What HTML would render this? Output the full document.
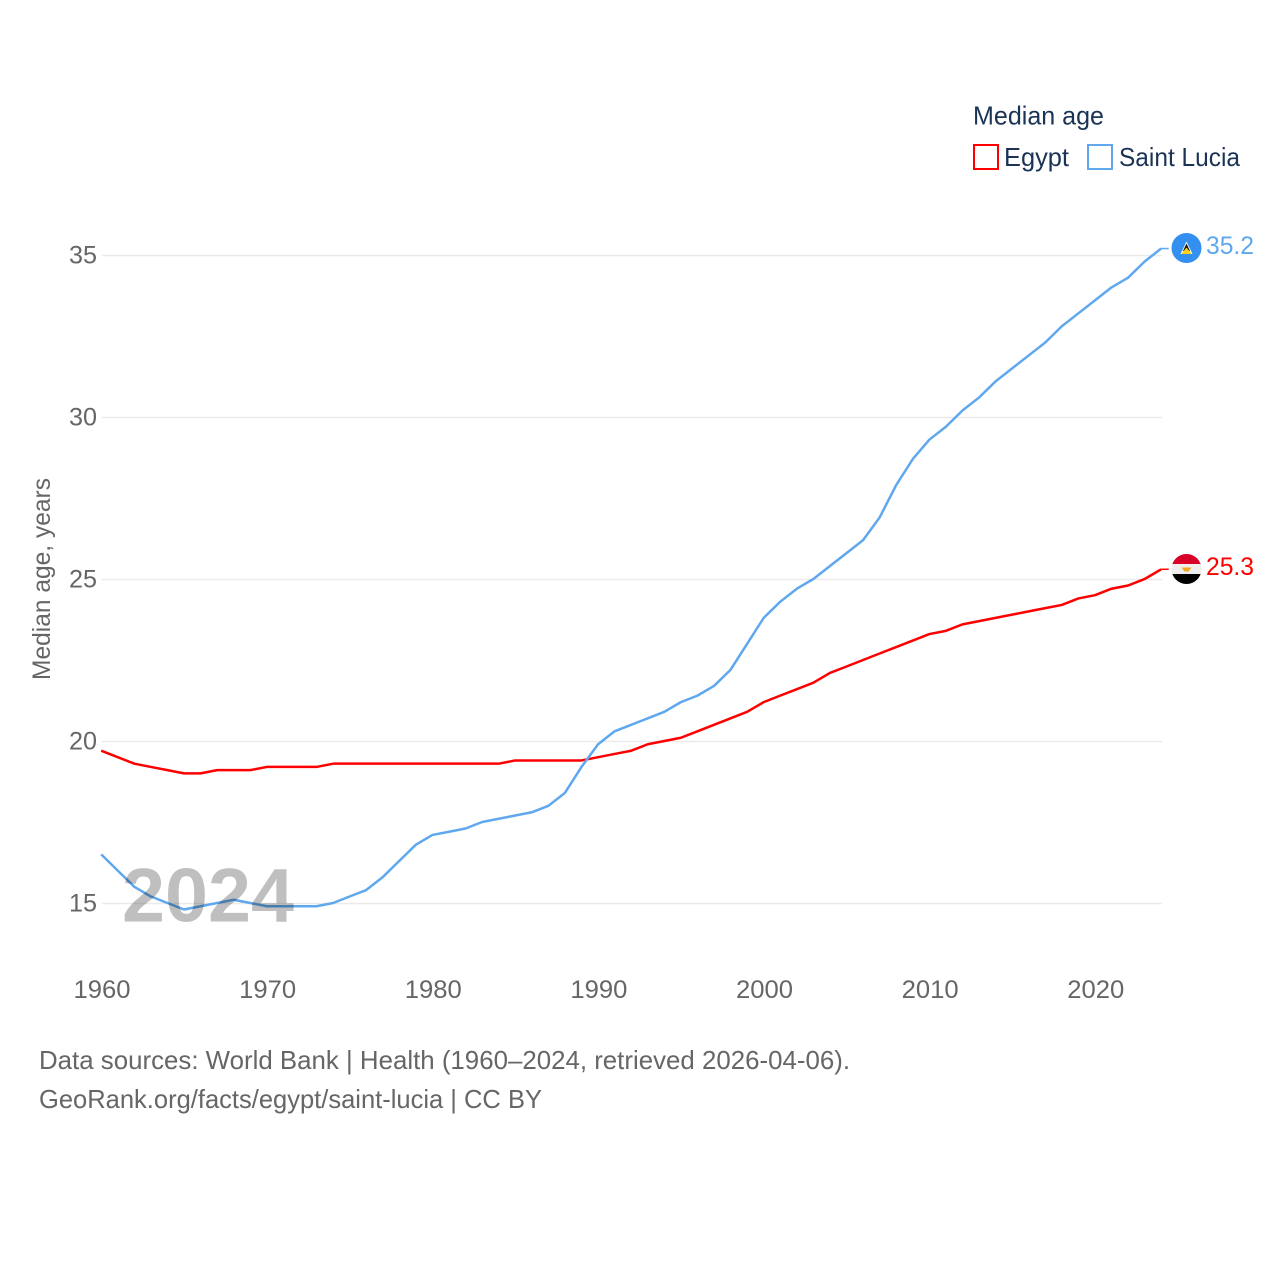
<!DOCTYPE html>
<html lang="en">
<head>
<meta charset="utf-8">
<title>Median age: Egypt and Saint Lucia</title>
<style>
html,body{margin:0;padding:0;background:#fff;width:1280px;height:1280px;overflow:hidden}
svg{display:block}
text{font-family:"Liberation Sans",sans-serif}
</style>
</head>
<body>
<svg id="chart" xmlns="http://www.w3.org/2000/svg" width="1280" height="1280" viewBox="0 0 1280 1280">
  <rect width="1280" height="1280" fill="#fff"/>
  <g id="grid"></g>
  <g id="yticks"></g>
  <g id="xticks"></g>
  <text transform="translate(50,680) rotate(-90)" font-size="25" fill="#666" textLength="202" lengthAdjust="spacingAndGlyphs">Median age, years</text>
  <g id="series"></g>
  <text x="122" y="921.5" font-size="76" font-weight="bold" fill="#000" fill-opacity="0.25" textLength="172" lengthAdjust="spacingAndGlyphs">2024</text>

  <text x="973" y="124.5" font-size="26" fill="#1b3355" textLength="131" lengthAdjust="spacingAndGlyphs">Median age</text>
  <rect x="974" y="145" width="24" height="24" fill="none" stroke="#ff0000" stroke-width="2"/>
  <text x="1004" y="166" font-size="26" fill="#1b3355" textLength="65" lengthAdjust="spacingAndGlyphs">Egypt</text>
  <rect x="1088" y="145" width="24" height="24" fill="none" stroke="#5fa8ee" stroke-width="2"/>
  <text x="1119" y="166" font-size="26" fill="#1b3355" textLength="121" lengthAdjust="spacingAndGlyphs">Saint Lucia</text>

  <defs>
    <clipPath id="egypt-clip"><circle cx="1186.5" cy="569" r="15"/></clipPath>
  </defs>
  <g>
    <circle cx="1186.5" cy="248" r="15" fill="#3390f0"/>
    <polygon points="1186.5,241.5 1192.5,254 1180.5,254" fill="#fff"/>
    <polygon points="1186.5,243.5 1190,251 1183,251" fill="#111"/>
    <polygon points="1186.5,247.5 1191.8,254 1181.2,254" fill="#fcd116"/>
  </g>
  <g clip-path="url(#egypt-clip)">
    <rect x="1171" y="554" width="31" height="10" fill="#d80027"/>
    <rect x="1171" y="564" width="31" height="10" fill="#eeeeee"/>
    <rect x="1171" y="574" width="31" height="11" fill="#000"/>
    <polygon points="1181.5,567.5 1191.5,567.5 1188.5,571.5 1184.5,571.5" fill="#f6a623"/>
  </g>
  <text x="1206" y="254" font-size="25" fill="#5fa8ee" textLength="48" lengthAdjust="spacingAndGlyphs">35.2</text>
  <text x="1206" y="575" font-size="25" fill="#ff0000" textLength="48" lengthAdjust="spacingAndGlyphs">25.3</text>

  <text x="39" y="1069" font-size="26" fill="#666" textLength="811" lengthAdjust="spacingAndGlyphs">Data sources: World Bank | Health (1960–2024, retrieved 2026-04-06).</text>
  <text x="39" y="1108" font-size="26" fill="#666" textLength="503" lengthAdjust="spacingAndGlyphs">GeoRank.org/facts/egypt/saint-lucia | CC BY</text>
</svg>
<script>
const startYear = 1960;
const xTickLabels = [1960, 1970, 1980, 1990, 2000, 2010, 2020];
const yTickLabels = [15, 20, 25, 30, 35];
const egyptValues = [19.7,19.5,19.3,19.2,19.1,19.0,19.0,19.1,19.1,19.1,19.2,19.2,19.2,19.2,19.3,19.3,19.3,19.3,19.3,19.3,19.3,19.3,19.3,19.3,19.3,19.4,19.4,19.4,19.4,19.4,19.5,19.6,19.7,19.9,20.0,20.1,20.3,20.5,20.7,20.9,21.2,21.4,21.6,21.8,22.1,22.3,22.5,22.7,22.9,23.1,23.3,23.4,23.6,23.7,23.8,23.9,24.0,24.1,24.2,24.4,24.5,24.7,24.8,25.0,25.3];
const saintLuciaValues = [16.5,16.0,15.5,15.2,15.0,14.8,14.9,15.0,15.1,15.0,14.9,14.9,14.9,14.9,15.0,15.2,15.4,15.8,16.3,16.8,17.1,17.2,17.3,17.5,17.6,17.7,17.8,18.0,18.4,19.2,19.9,20.3,20.5,20.7,20.9,21.2,21.4,21.7,22.2,23.0,23.8,24.3,24.7,25.0,25.4,25.8,26.2,26.9,27.9,28.7,29.3,29.7,30.2,30.6,31.1,31.5,31.9,32.3,32.8,33.2,33.6,34.0,34.3,34.8,35.2];

const NS = 'http://www.w3.org/2000/svg';
function xScale(year) { return 102 + (year - 1960) * 16.5625; }
function yScale(value) { return 903.5 - (value - 15) * 32.4; }
function markX(year) { return xScale(year) - 0.8; }
function markY(value) { return yScale(value) - 0.5; }

const gridGroup = document.getElementById('grid');
const yGroup = document.getElementById('yticks');
const xGroup = document.getElementById('xticks');
const seriesGroup = document.getElementById('series');

yTickLabels.forEach(function (v) {
  const line = document.createElementNS(NS, 'line');
  
  
  line.setAttribute('x1', xScale(1960));
  line.setAttribute('x2', xScale(2024));
  line.setAttribute('y1', yScale(v));
  line.setAttribute('y2', yScale(v));
  line.setAttribute('stroke', '#ebebeb');
  line.setAttribute('stroke-width', '1.5');
  gridGroup.appendChild(line);

  const label = document.createElementNS(NS, 'text');
  
  
  label.setAttribute('x', 97);
  label.setAttribute('y', yScale(v) + 8);
  label.setAttribute('text-anchor', 'end');
  label.setAttribute('font-size', '25');
  label.setAttribute('fill', '#666');
  label.setAttribute('textLength', '28');
  label.setAttribute('lengthAdjust', 'spacingAndGlyphs');
  label.textContent = v;
  yGroup.appendChild(label);
});

xTickLabels.forEach(function (y) {
  const label = document.createElementNS(NS, 'text');
  
  
  label.setAttribute('x', xScale(y));
  label.setAttribute('y', 998);
  label.setAttribute('text-anchor', 'middle');
  label.setAttribute('font-size', '25');
  label.setAttribute('fill', '#666');
  label.setAttribute('textLength', '57');
  label.setAttribute('lengthAdjust', 'spacingAndGlyphs');
  label.textContent = y;
  xGroup.appendChild(label);
});

function linePoints(values) {
  return values.map(function (v, i) {
    return markX(startYear + i).toFixed(2) + ',' + markY(v).toFixed(2);
  }).join(' ');
}

function addConnector(values, color, name) {
  const last = values[values.length - 1];
  const endYear = startYear + values.length - 1;
  const connector = document.createElementNS(NS, 'line');
  
  
  connector.setAttribute('x1', markX(endYear));
  connector.setAttribute('x2', markX(endYear) + 7.5);
  connector.setAttribute('y1', markY(last));
  connector.setAttribute('y2', markY(last));
  connector.setAttribute('stroke', color);
  connector.setAttribute('stroke-width', '1.5');
  seriesGroup.appendChild(connector);
}

const egyptLine = document.createElementNS(NS, 'polyline');


egyptLine.setAttribute('points', linePoints(egyptValues));
egyptLine.setAttribute('fill', 'none');
egyptLine.setAttribute('stroke', '#ff0000');
egyptLine.setAttribute('stroke-width', '2.5');
egyptLine.setAttribute('stroke-linejoin', 'round');
seriesGroup.appendChild(egyptLine);
addConnector(egyptValues, '#ff0000', 'connector-egypt');

const luciaLine = document.createElementNS(NS, 'polyline');


luciaLine.setAttribute('points', linePoints(saintLuciaValues));
luciaLine.setAttribute('fill', 'none');
luciaLine.setAttribute('stroke', '#5fa8ee');
luciaLine.setAttribute('stroke-width', '2.5');
luciaLine.setAttribute('stroke-linejoin', 'round');
seriesGroup.appendChild(luciaLine);
addConnector(saintLuciaValues, '#5fa8ee', 'connector-saint-lucia');
</script>
</body>
</html>
